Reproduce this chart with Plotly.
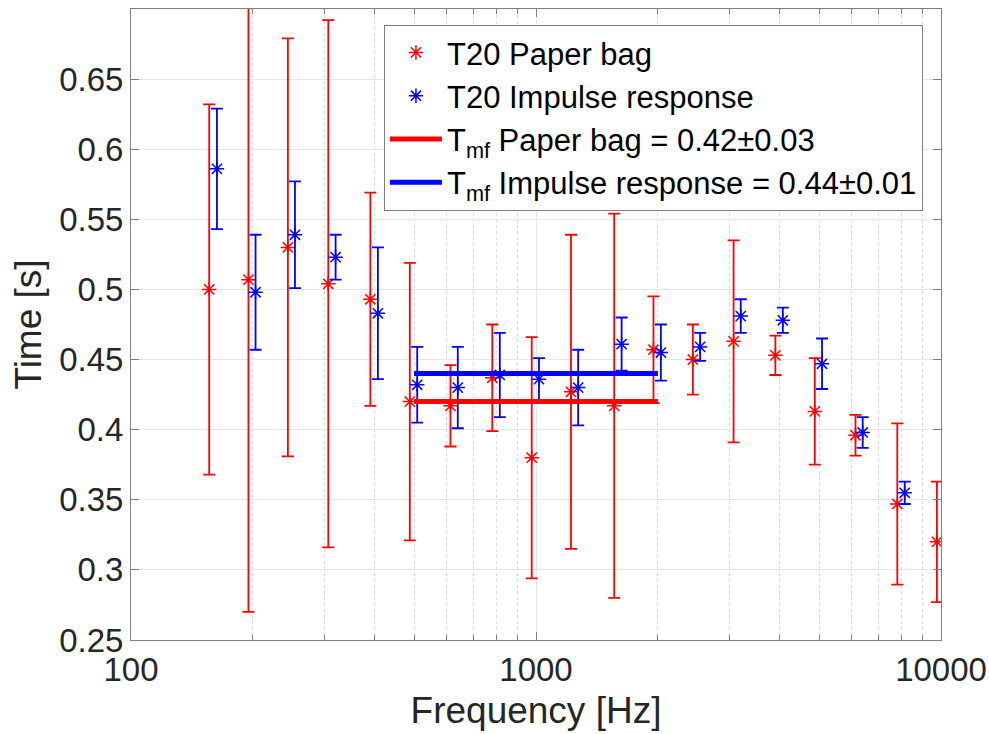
import plotly.graph_objects as go

# ---- data ----
paper_freq = [156, 195, 244, 307, 390, 488, 615, 780, 976, 1220, 1560, 1950,
              2440, 3075, 3900, 4880, 6150, 7800, 9770]
paper_t20 = [0.500, 0.507, 0.530, 0.504, 0.493, 0.420, 0.417, 0.437, 0.380,
             0.427, 0.417, 0.457, 0.450, 0.463, 0.453, 0.413, 0.396, 0.347, 0.320]
paper_err = [0.132, 0.237, 0.149, 0.188, 0.076, 0.099, 0.029, 0.038, 0.086,
             0.112, 0.137, 0.038, 0.025, 0.072, 0.014, 0.038, 0.0145, 0.0575, 0.043]

imp_freq = [163, 203, 254, 320, 407, 509, 641, 814, 1017, 1271, 1627, 2034,
            2543, 3203, 4068, 5085, 6407, 8136]
imp_t20 = [0.586, 0.498, 0.539, 0.523, 0.483, 0.432, 0.430, 0.439, 0.436,
           0.430, 0.461, 0.455, 0.459, 0.481, 0.478, 0.447, 0.398, 0.355]
imp_err = [0.043, 0.041, 0.038, 0.016, 0.047, 0.027, 0.029, 0.030, 0.015,
           0.027, 0.019, 0.020, 0.010, 0.012, 0.009, 0.018, 0.011, 0.008]

tmf_range = [500, 2000]
tmf_paper, tmf_paper_err = 0.42, 0.03
tmf_imp, tmf_imp_err = 0.44, 0.01

x_tickvals = [100, 1000, 10000]
x_ticktext = ["100", "1000", "10000"]
x_minor = [200, 300, 400, 500, 600, 700, 800, 900,
           2000, 3000, 4000, 5000, 6000, 7000, 8000, 9000]
y_tickvals = [0.25, 0.30, 0.35, 0.40, 0.45, 0.50, 0.55, 0.60, 0.65]
y_ticktext = ["0.25", "0.3", "0.35", "0.4", "0.45", "0.5", "0.55", "0.6", "0.65"]

RED = "#ff0000"
BLUE = "#0000ff"
AXC = "#808080"
TXT = "#262626"
FONT = "Liberation Sans, Arial, Helvetica, sans-serif"

fig = go.Figure()

fig.add_trace(go.Scatter(
    x=paper_freq, y=paper_t20, mode="markers", name="T20 Paper bag",
    marker=dict(symbol="asterisk-open", size=12, color=RED,
                line=dict(color=RED, width=1.5)),
    error_y=dict(type="data", array=paper_err, visible=True, color=RED,
                 thickness=1.8, width=6),
))
fig.add_trace(go.Scatter(
    x=imp_freq, y=imp_t20, mode="markers", name="T20 Impulse response",
    marker=dict(symbol="asterisk-open", size=12, color=BLUE,
                line=dict(color=BLUE, width=1.5)),
    error_y=dict(type="data", array=imp_err, visible=True, color=BLUE,
                 thickness=1.8, width=6),
))
fig.add_trace(go.Scatter(
    x=tmf_range, y=[tmf_paper, tmf_paper], mode="lines",
    name=f"T<sub>mf</sub> Paper bag = {tmf_paper:.2f}±{tmf_paper_err:.2f}",
    line=dict(color=RED, width=5),
))
fig.add_trace(go.Scatter(
    x=tmf_range, y=[tmf_imp, tmf_imp], mode="lines",
    name=f"T<sub>mf</sub> Impulse response = {tmf_imp:.2f}±{tmf_imp_err:.2f}",
    line=dict(color=BLUE, width=5),
))

fig.update_layout(
    width=989, height=734,
    margin=dict(l=131, r=48, t=9, b=94, autoexpand=False),
    paper_bgcolor="white", plot_bgcolor="white",
    font=dict(family=FONT, color=TXT, size=33),
    showlegend=True,
    legend=dict(
        x=0.3123, y=0.975, xanchor="left", yanchor="top",
        bgcolor="white", bordercolor=AXC, borderwidth=1,
        font=dict(family=FONT, size=31, color="black"),
        itemwidth=52, tracegroupgap=0,
    ),
    xaxis=dict(
        type="log", range=[2, 4], automargin=False,
        tickmode="array", tickvals=x_tickvals, ticktext=x_ticktext,
        ticks="inside", ticklen=8, tickcolor=AXC, tickwidth=1,
        showline=True, linecolor=AXC, linewidth=1, mirror="ticks",
        showgrid=True, gridcolor="#e6e6e6", gridwidth=1,
        zeroline=False,
        tickfont=dict(size=33, color=TXT),
        title=dict(text="Frequency [Hz]", font=dict(size=37, color=TXT), standoff=10),
        minor=dict(tickmode="array", tickvals=x_minor, ticks="inside", ticklen=5,
                   tickcolor=AXC, showgrid=True, gridcolor="#dadada",
                   griddash="dot", gridwidth=1),
    ),
    yaxis=dict(
        range=[0.25, 0.70], automargin=False,
        tickmode="array", tickvals=y_tickvals, ticktext=y_ticktext,
        ticks="inside", ticklen=8, tickcolor=AXC, tickwidth=1,
        showline=True, linecolor=AXC, linewidth=1, mirror="ticks",
        showgrid=True, gridcolor="#e6e6e6", gridwidth=1,
        zeroline=False,
        tickfont=dict(size=33, color=TXT),
        title=dict(text="Time [s]", font=dict(size=37, color=TXT), standoff=6),
    ),
)

fig.write_html("out.html")
